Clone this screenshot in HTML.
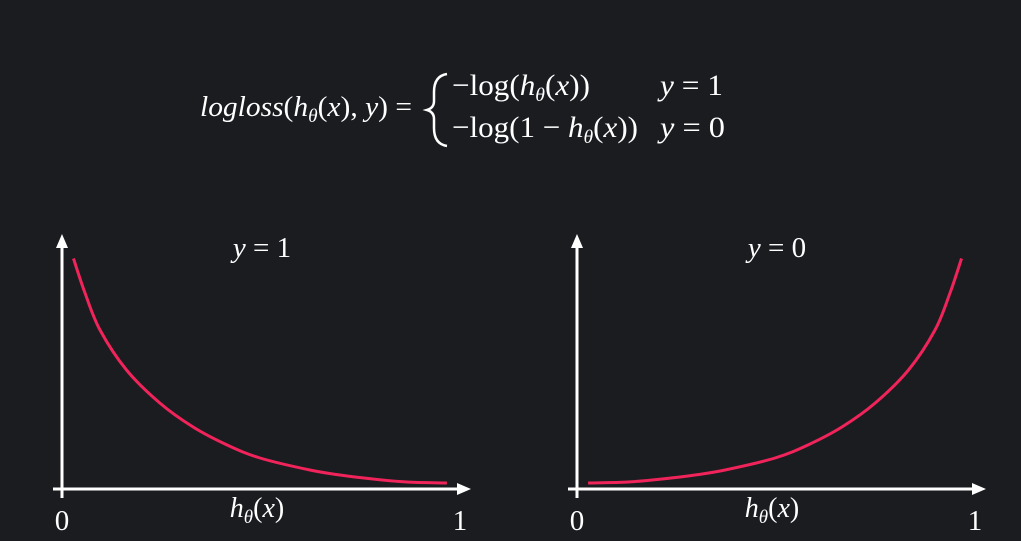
<!DOCTYPE html>
<html><head><meta charset="utf-8">
<style>
html,body{margin:0;padding:0;background:#1a1c20;}
svg{display:block;}
text{font-family:"Liberation Serif",serif;fill:#fff;}
</style></head>
<body>
<svg id="chart" width="1021" height="541" viewBox="0 0 1021 541">
<rect width="1021" height="541" fill="#1a1c20"/>
<g font-size="30">
<text x="200" y="116" font-size="29" textLength="212" lengthAdjust="spacingAndGlyphs" font-style="italic">logloss<tspan font-style="normal">(</tspan>h<tspan font-size="19" dy="6">θ</tspan><tspan font-style="normal" dy="-6">(</tspan>x<tspan font-style="normal">),</tspan> y<tspan font-style="normal">) =</tspan></text>
<path d="M447 74 Q434 76 434 92 L434 101 Q434 108 427 110 Q434 112 434 119 L434 128 Q434 144 447 146" stroke="#fff" stroke-width="2.5" fill="none"/>
<text x="452" y="95" textLength="138" lengthAdjust="spacingAndGlyphs">−log(<tspan font-style="italic">h</tspan><tspan font-size="19" dy="6" font-style="italic">θ</tspan><tspan dy="-6">(</tspan><tspan font-style="italic">x</tspan>))</text>
<text x="660" y="95" textLength="63" lengthAdjust="spacingAndGlyphs"><tspan font-style="italic">y</tspan> = 1</text>
<text x="452" y="137" textLength="186" lengthAdjust="spacingAndGlyphs">−log(1 − <tspan font-style="italic">h</tspan><tspan font-size="19" dy="6" font-style="italic">θ</tspan><tspan dy="-6">(</tspan><tspan font-style="italic">x</tspan>))</text>
<text x="660" y="137" textLength="65" lengthAdjust="spacingAndGlyphs"><tspan font-style="italic">y</tspan> = 0</text>
</g>
</svg>
<script>
// data: loss vs h(x)
const xVals = [0.029,0.058,0.096,0.163,0.247,0.331,0.417,0.5,0.626,0.702,0.785,0.871,0.972];
const lossY1 = [4.61,3.92,3.18,2.38,1.72,1.24,0.88,0.62,0.38,0.28,0.20,0.14,0.12];
const xVals0 = [0.028,0.129,0.215,0.298,0.374,0.5,0.583,0.669,0.753,0.837,0.904,0.942,0.971];
const lossY0 = [0.12,0.14,0.20,0.28,0.38,0.62,0.88,1.24,1.72,2.38,3.18,3.92,4.61];
const panelTitles = ["y = 1","y = 0"];
const tickLabels = ["0","1"];

const NS="http://www.w3.org/2000/svg";
const svg=document.getElementById('chart');
function mk(tag,attrs,parent){const e=document.createElementNS(NS,tag);for(const k in attrs)e.setAttribute(k,attrs[k]);(parent||svg).appendChild(e);return e;}
function smooth(pts){
  let d='M'+pts[0][0].toFixed(1)+' '+pts[0][1].toFixed(1);
  for(let i=0;i<pts.length-1;i++){
    const p0=pts[Math.max(0,i-1)],p1=pts[i],p2=pts[i+1],p3=pts[Math.min(pts.length-1,i+2)];
    const c1=[p1[0]+(p2[0]-p0[0])/6,p1[1]+(p2[1]-p0[1])/6];
    const c2=[p2[0]-(p3[0]-p1[0])/6,p2[1]-(p3[1]-p1[1])/6];
    d+=` C${c1[0].toFixed(1)} ${c1[1].toFixed(1)} ${c2[0].toFixed(1)} ${c2[1].toFixed(1)} ${p2[0].toFixed(1)} ${p2[1].toFixed(1)}`;
  }
  return d;
}

const panels=[{x0:62,x1:458,name:'y1',xs:xVals,ys:lossY1},{x0:577,x1:973,name:'y0',xs:xVals0,ys:lossY0}];
const yBase=489, yPerUnit=50;
panels.forEach((p,i)=>{
  const g=mk('g',{});
  
  
  const sx=v=>p.x0+v*(p.x1-p.x0);
  const sy=v=>yBase-v*yPerUnit;
  const ya=mk('line',{x1:p.x0,y1:498,x2:p.x0,y2:245,stroke:'#fff','stroke-width':3},g);
  
  
  const yh=mk('path',{d:`M${p.x0} 234 L${p.x0-6} 248 L${p.x0+6} 248 Z`,fill:'#fff'},g);
  
  
  const xa=mk('line',{x1:p.x0-9,y1:yBase,x2:p.x1+3,y2:yBase,stroke:'#fff','stroke-width':3},g);
  
  
  const xh=mk('path',{d:`M${p.x1+13} ${yBase} L${p.x1-1} ${yBase-6} L${p.x1-1} ${yBase+6} Z`,fill:'#fff'},g);
  
  
  const pts=p.xs.map((v,j)=>[sx(v),sy(p.ys[j])]);
  const c=mk('path',{d:smooth(pts),stroke:'#f0245a','stroke-width':3,fill:'none','stroke-linecap':'butt'},g);
  
  
  const t=mk('text',{x:(p.x0+p.x1)/2+2,y:257,'font-size':29,'text-anchor':'middle'},g);
  t.innerHTML='<tspan font-style="italic">y</tspan>'+panelTitles[i].slice(1);
  
  
  [0,1].forEach(k=>{
    const tl=mk('text',{x:sx(k)+(k?2:0),y:530,'font-size':29,'text-anchor':'middle'},g);
    tl.textContent=tickLabels[k];
    
    
  });
  const xl=mk('text',{x:(p.x0+p.x1)/2-3,y:517,'font-size':28,'text-anchor':'middle'},g);
  xl.innerHTML='<tspan font-style="italic">h</tspan><tspan font-style="italic" font-size="19" dy="6">θ</tspan><tspan dy="-6">(</tspan><tspan font-style="italic">x</tspan>)';
  
  
});
</script>
</body></html>
